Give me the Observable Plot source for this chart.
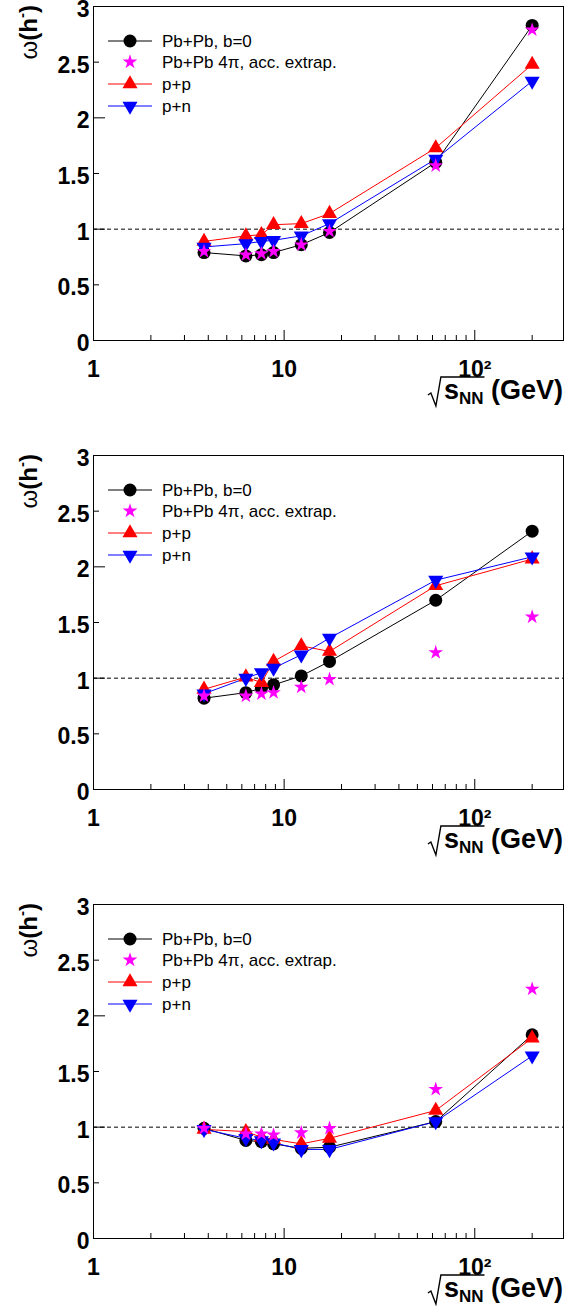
<!DOCTYPE html>
<html>
<head>
<meta charset="utf-8">
<script src="https://cdn.jsdelivr.net/npm/d3@7"></script>
<script src="https://cdn.jsdelivr.net/npm/@observablehq/plot@0.6"></script>
<style>
  body { margin: 0; background: #fff; font-family: "Liberation Sans", Arial, sans-serif; }
  #chart svg { display: block; }
</style>
</head>
<body>
<div id="chart"></div>
<script>
// ---- data ----
const energies = [3.8, 6.3, 7.6, 8.8, 12.3, 17.3, 62.4, 200];
const seriesNames = ["Pb+Pb, b=0", "Pb+Pb 4\u03c0, acc. extrap.", "p+p", "p+n"];

const p1PbPb = [0.79, 0.76, 0.77, 0.79, 0.86, 0.97, 1.60, 2.83];
const p1Star = [0.80, 0.77, 0.78, 0.80, 0.86, 0.98, 1.57, 2.79];
const p1pp   = [0.89, 0.94, 0.95, 1.04, 1.05, 1.14, 1.73, 2.48];
const p1pn   = [0.84, 0.87, 0.89, 0.90, 0.94, 1.05, 1.63, 2.33];

const p2PbPb = [0.82, 0.87, 0.91, 0.94, 1.02, 1.15, 1.70, 2.32];
const p2Star = [0.84, 0.84, 0.86, 0.87, 0.92, 0.99, 1.23, 1.55];
const p2pp   = [0.90, 1.01, 0.96, 1.15, 1.29, 1.24, 1.83, 2.07];
const p2pn   = [0.86, 1.00, 1.05, 1.09, 1.21, 1.36, 1.88, 2.09];

const p3PbPb = [0.99, 0.88, 0.87, 0.85, 0.81, 0.82, 1.05, 1.83];
const p3Star = [0.99, 0.94, 0.94, 0.93, 0.95, 0.99, 1.34, 2.24];
const p3pp   = [0.98, 0.96, 0.91, 0.89, 0.85, 0.90, 1.15, 1.80];
const p3pn   = [0.98, 0.90, 0.88, 0.86, 0.80, 0.80, 1.05, 1.64];

const xLabelTicks = [1, 10, 100];
const xLabelText = ["1", "10", "10\u00b2"];
const xMinorTicks = [2,3,4,5,6,7,8,9,20,30,40,50,60,70,80,90,200];
const yLabelTicks = [0, 0.5, 1, 1.5, 2, 2.5, 3];
const yMajorTicks = [0, 1, 2, 3];
const yMinorTicks = [0.5, 1.5, 2.5];
const refLine = [1];

const panels = [
  {PbPb: p1PbPb, star: p1Star, pp: p1pp, pn: p1pn, height: 449},
  {PbPb: p2PbPb, star: p2Star, pp: p2pp, pn: p2pn, height: 449},
  {PbPb: p3PbPb, star: p3Star, pp: p3pp, pn: p3pn, height: 408}
];

// ---- style ----
const FONT = "Liberation Sans, Arial, Helvetica, sans-serif";
const W = 566, ML = 93, MR = 3, MT = 6, INNER_H = 334;
const INNER_W = W - ML - MR;
const rCircle = 6.5, rTri = 5.6, rStar = 4.6;

function toRows(vals) { return energies.map((e, i) => ({x: e, y: vals[i]})); }

function makePanel(p, container) {
  const H = p.height;
  const MB = H - MT - INNER_H;
  const black = toRows(p.PbPb), star = toRows(p.star), pp = toRows(p.pp), pn = toRows(p.pn);
  const svg = Plot.plot({
    width: W, height: H,
    marginLeft: ML, marginRight: MR, marginTop: MT, marginBottom: MB,
    style: {fontFamily: FONT, background: "white", overflow: "visible"},
    x: {type: "log", domain: [1, 292]},
    y: {domain: [0, 3]},
    marks: [
      Plot.ruleY(refLine, {y: d => d, stroke: "black", strokeWidth: 1, strokeDasharray: "4,3"}),
      Plot.tickX(xLabelTicks, {x: d => d, insetTop: INNER_H - 10, stroke: "black"}),
      Plot.tickX(xMinorTicks, {x: d => d, insetTop: INNER_H - 5, stroke: "black"}),
      Plot.tickY(yMajorTicks, {y: d => d, insetRight: INNER_W - 12, stroke: "black"}),
      Plot.tickY(yMinorTicks, {y: d => d, insetRight: INNER_W - 6, stroke: "black"}),
      Plot.line(black, {x: "x", y: "y", stroke: "black", strokeWidth: 1}),
      Plot.line(pp, {x: "x", y: "y", stroke: "#ff0000", strokeWidth: 1}),
      Plot.line(pn, {x: "x", y: "y", stroke: "#0000ff", strokeWidth: 1}),
      Plot.dot(black, {x: "x", y: "y", r: rCircle, fill: "black", symbol: "circle"}),
      Plot.dot(pp, {x: "x", y: "y", r: rTri, fill: "#ff0000", symbol: "triangle"}),
      Plot.dot(pn, {x: "x", y: "y", r: rTri, fill: "#0000ff", symbol: "triangle", rotate: 180}),
      Plot.dot(star, {x: "x", y: "y", r: rStar, fill: "#ff00ff", symbol: "star"}),
      Plot.frame({stroke: "black", strokeWidth: 1}),
      Plot.axisX(xLabelTicks, {tickSize: 0, tickPadding: 20, label: null,
        tickFormat: d => xLabelText[xLabelTicks.indexOf(d)],
        fontSize: 23, fontWeight: "bold", fill: "black"}),
      Plot.axisY(yLabelTicks, {tickSize: 0, tickPadding: 4, label: null, dy: 3,
        tickFormat: d => String(d), fontSize: 23, fontWeight: "bold", fill: "black"})
    ]
  });
  container.appendChild(svg);

  const g = d3.select(svg);
  const axisY = MT + INNER_H;

  // x-axis title: sqrt(s_NN) (GeV)
  const base = axisY + 59;
  const t = g.append("text")
    .attr("x", 563).attr("y", base)
    .attr("text-anchor", "end")
    .attr("font-family", FONT).attr("font-weight", "bold").attr("font-size", 27)
    .attr("fill", "black");
  t.append("tspan").text("s");
  t.append("tspan").attr("dy", 5).attr("font-size", 17).text("NN");
  t.append("tspan").attr("dy", -5).text(" (GeV)");
  let sx = 420, nnEnd = 460;
  try {
    const node = t.node();
    sx = node.getStartPositionOfChar(0).x;
    nnEnd = node.getEndPositionOfChar(2).x;
  } catch (e) {}
  const top = base - 22, bot = base + 7;
  g.append("path")
    .attr("d", `M${sx - 16},${bot - 11} L${sx - 13},${bot - 13} L${sx - 8},${bot} L${sx - 3},${top} L${nnEnd + 1},${top}`)
    .attr("fill", "none").attr("stroke", "black").attr("stroke-width", 1.4);

  // y-axis title: omega(h-)
  const yt = g.append("text")
    .attr("transform", `translate(37,5) rotate(-90)`)
    .attr("text-anchor", "end")
    .attr("font-family", FONT).attr("font-size", 24).attr("fill", "black");
  yt.append("tspan").text("\u03c9");
  yt.append("tspan").attr("font-weight", "bold").text("(h");
  yt.append("tspan").attr("font-weight", "bold").attr("font-size", 15).attr("dy", -10).text("-");
  yt.append("tspan").attr("font-weight", "bold").attr("dy", 10).text(")");

  // legend
  const leg = g.append("g").attr("font-family", FONT).attr("font-size", 17).attr("text-anchor", "start");
  const rows = [
    {name: seriesNames[0], color: "black", sym: d3.symbolCircle, r: rCircle, line: true, rot: 0},
    {name: seriesNames[1], color: "#ff00ff", sym: d3.symbolStar, r: rStar, line: false, rot: 0},
    {name: seriesNames[2], color: "#ff0000", sym: d3.symbolTriangle, r: rTri, line: true, rot: 0},
    {name: seriesNames[3], color: "#0000ff", sym: d3.symbolTriangle, r: rTri, line: true, rot: 180}
  ];
  const rowY = [41, 62, 84, 106];
  rows.forEach((row, i) => {
    const y = rowY[i];
    if (row.line) leg.append("line").attr("x1", 108).attr("x2", 152).attr("y1", y).attr("y2", y)
      .attr("stroke", row.color).attr("stroke-width", 1);
    leg.append("path").attr("d", d3.symbol(row.sym, Math.PI * row.r * row.r)())
      .attr("transform", `translate(130,${y}) rotate(${row.rot})`).attr("fill", row.color);
    leg.append("text").attr("x", 162).attr("y", y).attr("dy", "0.35em").attr("fill", "black")
      .attr("text-anchor", "start").text(row.name);
  });
}

const chart = document.getElementById("chart");
panels.forEach(p => makePanel(p, chart));
</script>
</body>
</html>
